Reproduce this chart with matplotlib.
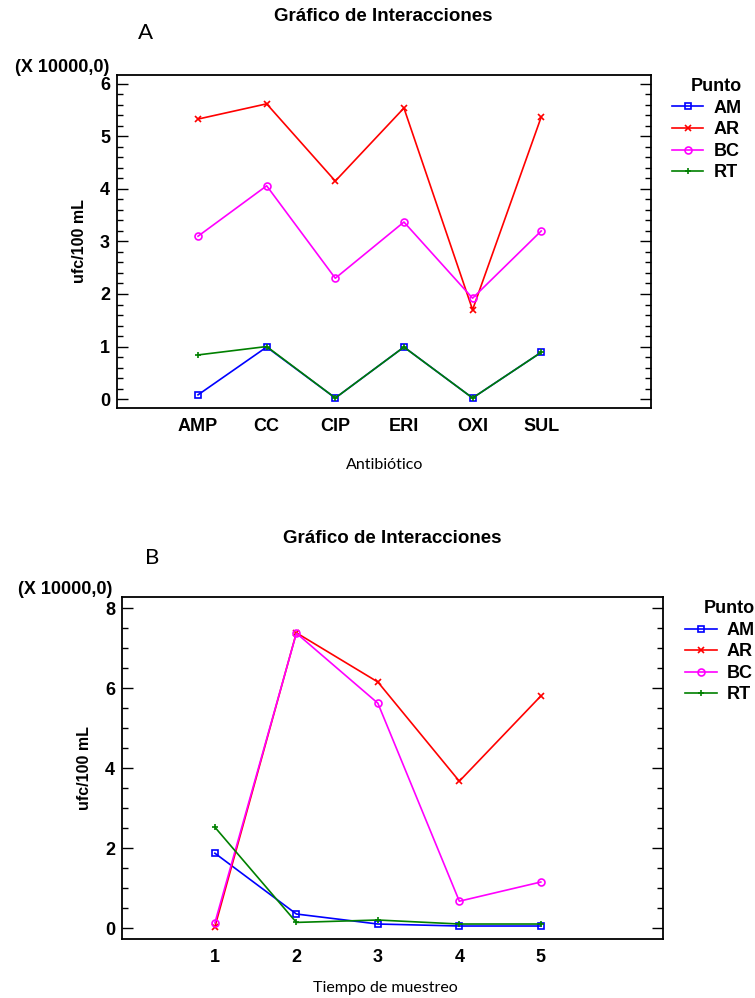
import numpy as np
import matplotlib.pyplot as plt
from matplotlib.ticker import MultipleLocator

# panel A data (x 10000 ufc/100 mL)
antibioticos = ["AMP", "CC", "CIP", "ERI", "OXI", "SUL"]
a_am = [0.08, 0.99, 0.02, 0.99, 0.02, 0.89]
a_ar = [5.33, 5.62, 4.15, 5.54, 1.70, 5.37]
a_bc = [3.10, 4.06, 2.30, 3.37, 1.92, 3.20]
a_rt = [0.84, 1.00, 0.02, 0.99, 0.02, 0.89]

# panel B data
tiempos = ["1", "2", "3", "4", "5"]
b_am = [1.87, 0.35, 0.10, 0.05, 0.05]
b_ar = [0.03, 7.38, 6.15, 3.67, 5.80]
b_bc = [0.13, 7.37, 5.62, 0.67, 1.15]
b_rt = [2.52, 0.14, 0.20, 0.10, 0.10]

puntos = ["AM", "AR", "BC", "RT"]
colores = ["#0000ff", "#ff0000", "#ff00ff", "#008000"]
marcas = ["s", "x", "o", "+"]

bold = "Liberation Sans"
soft = "Lato"

fig = plt.figure(figsize=(7.55, 9.98), dpi=100)


def panel(rect, cats, series, ylim, xlim, major, minor, leg_xy,
          letter, letter_xy, head_xy, xunit_xy, xlabel, xlabel_y):
    ax = fig.add_axes(rect)
    x = np.arange(1, len(cats) + 1)
    for vals, name, c, m in zip(series, puntos, colores, marcas):
        ax.plot(x, vals, color=c, marker=m, ms=5, mfc="none", mew=1.2, lw=1.2, label=name)
    ax.set_xlim(*xlim)
    ax.set_ylim(*ylim)
    ax.set_xticks(x)
    ax.set_xticklabels(cats, fontfamily=bold, fontweight="bold", fontsize=13)
    ax.yaxis.set_major_locator(MultipleLocator(major))
    ax.yaxis.set_minor_locator(MultipleLocator(minor))
    for t in ax.get_yticklabels():
        t.set_fontfamily(bold)
        t.set_fontweight("bold")
        t.set_fontsize(13)
    ax.tick_params(axis="y", which="both", direction="in", right=True, width=1)
    ax.tick_params(axis="y", which="major", length=8, pad=5)
    ax.tick_params(axis="y", which="minor", length=4.5)
    ax.tick_params(axis="x", length=0, pad=7)
    for s in ax.spines.values():
        s.set_linewidth(1.3)
    ax.set_ylabel("ufc/100 mL", fontfamily=bold, fontweight="bold", fontsize=11.5, labelpad=9)
    leg = ax.legend(title="Punto", loc="upper left", bbox_to_anchor=leg_xy, frameon=False,
                    prop={"family": bold, "weight": "bold", "size": 13}, handlelength=1.75,
                    labelspacing=0.25, handletextpad=0.55, borderaxespad=0.0, borderpad=0.0)
    leg.get_title().set_fontfamily(bold)
    leg.get_title().set_fontweight("bold")
    leg.get_title().set_fontsize(13)
    leg._legend_box.align = "right"
    fig.text(head_xy[0], head_xy[1], "Gráfico de Interacciones", ha="center", va="center",
             fontfamily=bold, fontweight="bold", fontsize=13.5)
    fig.text(letter_xy[0], letter_xy[1], letter, ha="center", va="center", fontfamily=soft, fontsize=16)
    fig.text(xunit_xy[0], xunit_xy[1], "(X 10000,0)", ha="left", va="center",
             fontfamily=bold, fontweight="bold", fontsize=13)
    fig.text(0.51, xlabel_y, xlabel, ha="center", va="center", fontfamily=soft, fontsize=11.5)
    return ax


panel([0.155, 0.5912, 0.7073, 0.3337], antibioticos, [a_am, a_ar, a_bc, a_rt],
      (-0.17, 6.17), (-0.18, 7.6), 1, 0.2, (1.039, 0.99),
      "A", (0.193, 0.967), (0.507, 0.983), (0.02, 0.932), "Antibiótico", 0.534)
panel([0.1616, 0.0591, 0.7166, 0.3427], tiempos, [b_am, b_ar, b_bc, b_rt],
      (-0.275, 8.275), (-0.14, 6.5), 2, 0.5, (1.041, 0.99),
      "B", (0.202, 0.441), (0.520, 0.460), (0.024, 0.409), "Tiempo de muestreo", 0.010)

plt.savefig("out.png", dpi=100)
